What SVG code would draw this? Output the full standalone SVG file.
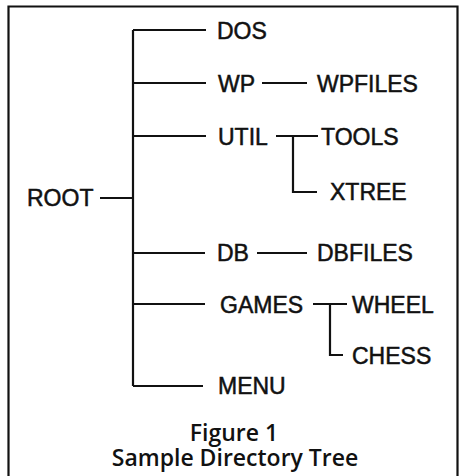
<svg xmlns="http://www.w3.org/2000/svg" width="462" height="476" viewBox="0 0 462 476">
<style>
.lbl{font-family:"Liberation Sans",Arial,sans-serif;font-size:23px;fill:#111;stroke:#111;stroke-width:0.5}
.cap{font-family:"Open Sans","Lato",sans-serif;font-size:23px;font-weight:600;fill:#111;text-anchor:middle}
.ln{stroke:#111;stroke-width:2.2;fill:none}
</style>
<rect x="0" y="0" width="462" height="476" fill="#fff"/>
<path class="ln" d="M8.5,480 V6.5 H457.5 V480"/>
<g id="connectors">
<path class="ln" d="M133,30 V386"/>
<path class="ln" d="M133,30 H206"/>
<path class="ln" d="M133,83 H206"/>
<path class="ln" d="M133,136 H206"/>
<path class="ln" d="M100,198 H133"/>
<path class="ln" d="M133,253 H205"/>
<path class="ln" d="M133,304 H205"/>
<path class="ln" d="M133,386 H203"/>
<path class="ln" d="M262,83 H307"/>
<path class="ln" d="M276,136 H318"/>
<path class="ln" d="M293,136 V192 H317"/>
<path class="ln" d="M257,253 H307"/>
<path class="ln" d="M313,304 H347"/>
<path class="ln" d="M330,304 V355 H343"/>
</g>
<g id="root"><text class="lbl" x="27" y="206">ROOT</text></g>
<g id="dos"><text class="lbl" x="217" y="39">DOS</text></g>
<g id="wp"><text class="lbl" x="218" y="92">WP</text></g>
<g id="wpfiles"><text class="lbl" x="317" y="92">WPFILES</text></g>
<g id="util"><text class="lbl" x="218" y="145">UTIL</text></g>
<g id="tools"><text class="lbl" x="321" y="145">TOOLS</text></g>
<g id="xtree"><text class="lbl" x="330" y="200">XTREE</text></g>
<g id="db"><text class="lbl" x="217" y="261">DB</text></g>
<g id="dbfiles"><text class="lbl" x="317" y="261">DBFILES</text></g>
<g id="games"><text class="lbl" x="220" y="313">GAMES</text></g>
<g id="wheel"><text class="lbl" x="352" y="313">WHEEL</text></g>
<g id="chess"><text class="lbl" x="352" y="364">CHESS</text></g>
<g id="menu"><text class="lbl" x="218" y="394">MENU</text></g>
<g id="caption">
<text class="cap" x="234" y="441">Figure 1</text>
<text class="cap" x="235" y="466">Sample Directory Tree</text>
</g>
</svg>
